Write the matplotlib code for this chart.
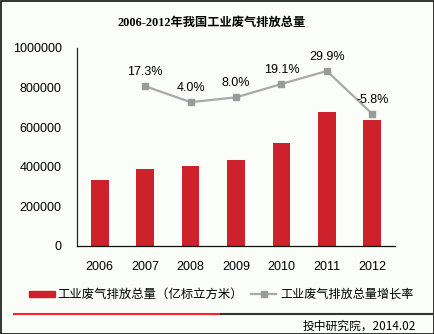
import matplotlib
matplotlib.use("Agg")
import matplotlib.pyplot as plt
from matplotlib.lines import Line2D
from matplotlib.patches import Rectangle

plt.rcParams['font.family'] = ['Liberation Sans', 'Noto Sans CJK SC', 'DejaVu Sans']

years = ["2006", "2007", "2008", "2009", "2010", "2011", "2012"]
emission = [330990, 388169, 403866, 436064, 519168, 674509, 635519]
growth_years = ["2007", "2008", "2009", "2010", "2011", "2012"]
growth = [17.3, 4.0, 8.0, 19.1, 29.9, -5.8]
yticks = [0, 200000, 400000, 600000, 800000, 1000000]

bar_color = '#cd222b'
line_color = '#a9a9a9'
bg = '#fbfdf9'

fig = plt.figure(figsize=(4.34, 3.34), dpi=100, facecolor=bg)
ax = fig.add_axes([77 / 434, 88 / 334, 318 / 434, 198 / 334])
ax.set_facecolor('none')

x = list(range(len(years)))
ax.bar(x, emission, width=0.39, color=bar_color, zorder=2)
ax.set_xlim(-0.5, len(years) - 0.5)
ax.set_ylim(0, 1000000)
ax.set_yticks(yticks)
ax.set_yticklabels([str(v) for v in yticks], fontsize=9)
ax.set_xticks(x)
ax.set_xticklabels(years, fontsize=9)
ax.tick_params(axis='y', length=0, pad=11)
ax.tick_params(axis='x', length=0, pad=11)
for s in ['top', 'right']:
    ax.spines[s].set_visible(False)
ax.spines['left'].set_color('#222222')
ax.spines['bottom'].set_color('#111111')
ax.spines['left'].set_linewidth(0.9)
ax.spines['bottom'].set_linewidth(0.9)

# growth rate on a hidden second scale
ax2 = ax.twinx()
ax2.set_ylim(-115.5, 49)
gx = [years.index(y) for y in growth_years]
ax2.plot(gx, growth, color=line_color, lw=1.6, marker='s', ms=4,
         mfc='#9a9a9a', mec='#9a9a9a', zorder=3)
for xi, g in zip(gx, growth):
    ax2.annotate(f"{g:.1f}%", (xi, g), xytext=(0, 6), textcoords='offset points',
                 ha='center', va='bottom', fontsize=9)
ax2.axis('off')

fig.text(212 / 434, 1 - 23 / 334, "2006-2012年我国工业废气排放总量",
         ha='center', va='center', fontsize=8.8, fontweight='bold',
         family=['Liberation Serif', 'Noto Sans CJK SC'])

# legend row
fig.patches.append(Rectangle((29 / 434, 1 - 297 / 334), 26 / 434, 6 / 334,
                             transform=fig.transFigure, color=bar_color))
fig.text(57 / 434, 1 - 294 / 334, "工业废气排放总量（亿标立方米）",
         ha='left', va='center', fontsize=8.9,
         family=['Noto Sans CJK SC', 'DejaVu Sans'])
fig.add_artist(Line2D([251 / 434, 276 / 434], [1 - 294 / 334] * 2, color=line_color,
                      lw=1.6, transform=fig.transFigure))
fig.add_artist(Line2D([263.5 / 434], [1 - 294 / 334], marker='s', ms=4, color='#9a9a9a',
                      transform=fig.transFigure))
fig.text(280 / 434, 1 - 294 / 334, "工业废气排放总量增长率",
         ha='left', va='center', fontsize=8.7,
         family=['Noto Sans CJK SC', 'DejaVu Sans'])

# separator and source
fig.add_artist(Line2D([14 / 434, 221 / 434], [1 - 313.5 / 334] * 2, color='#ff2020',
                      lw=1.5, transform=fig.transFigure))
fig.add_artist(Line2D([221 / 434, 432 / 434], [1 - 313.5 / 334] * 2, color='#333333',
                      lw=1.5, transform=fig.transFigure))
fig.text(416 / 434, 1 - 326 / 334, "投中研究院，2014.02", ha='right', va='center',
         fontsize=8.5, family=['Noto Sans CJK SC', 'DejaVu Sans'])

# outer frame
fig.patches.append(Rectangle((0.5 / 434, 0.5 / 334), 433 / 434, 333 / 334,
                             transform=fig.transFigure, fill=False,
                             edgecolor='#111111', lw=1.2))

fig.savefig("out.png", dpi=100, facecolor=bg)
